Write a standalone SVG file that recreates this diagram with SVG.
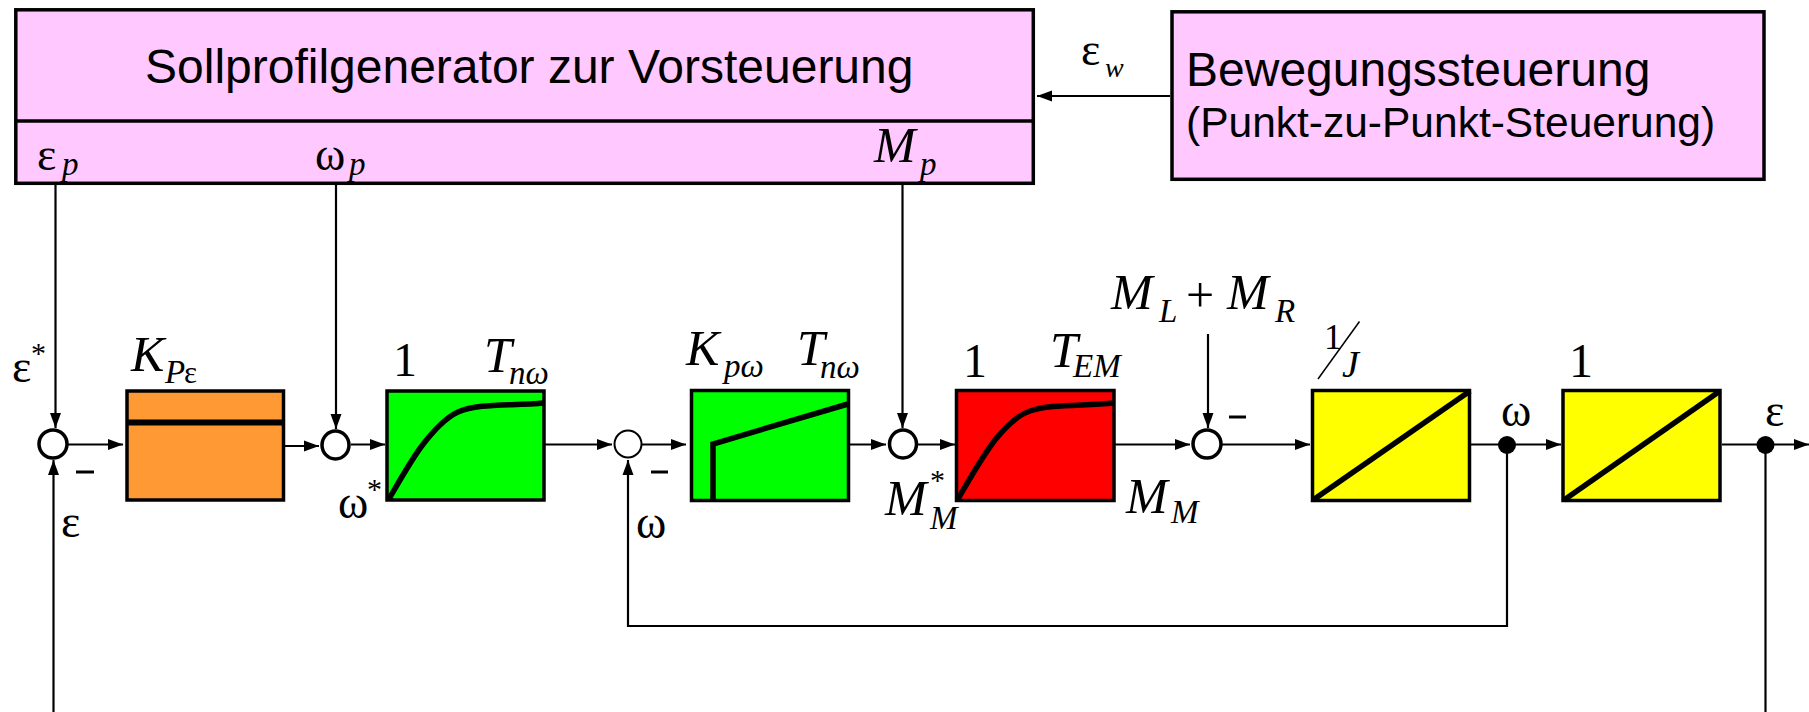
<svg xmlns="http://www.w3.org/2000/svg" width="1809" height="712" viewBox="0 0 1809 712">
<style>
.box{stroke:#000;stroke-width:3.5}
.pink{fill:#ffc8ff}.or{fill:#ff9933}.gr{fill:#00ff00}.rd{fill:#ff0000}.ye{fill:#ffff00}
.cur{fill:none;stroke:#000;stroke-width:5.5}
.sum{fill:#fff;stroke:#000;stroke-width:3.5}
.dot{fill:#000}
.c{fill:none;stroke:#000;stroke-width:2.2}
.ca{fill:none;stroke:#000;stroke-width:2.2;marker-end:url(#a)}
.minus{stroke:#000;stroke-width:3}
text{fill:#000;font-family:"Liberation Serif","Times New Roman",serif}
.s{font-family:"Liberation Sans",Arial,sans-serif}
.g{font-size:46px}
.i{font-style:italic;font-size:50px}
.sb{font-style:italic;font-size:33px}
.n{font-size:48px}
.st{font-size:30px}
</style>
<defs>
<marker id="a" markerUnits="userSpaceOnUse" markerWidth="15" markerHeight="12" refX="15" refY="6" orient="auto"><path d="M0 0.5L15 6L0 11.5z" fill="#000"/></marker>
</defs>
<g id="connectors">
<path class="ca" d="M55.500 183V428"/>
<path class="ca" d="M53.500 712V460"/>
<path class="ca" d="M336 183V429"/>
<path class="ca" d="M902.500 183V428"/>
<path class="ca" d="M1208 334V428"/>
<path class="ca" d="M1170 96H1037"/>
<path class="ca" d="M68 444.500H123"/>
<path class="ca" d="M285 446H319"/>
<path class="ca" d="M351 444.500H385"/>
<path class="ca" d="M545 444.500H612"/>
<path class="ca" d="M642 444.500H686"/>
<path class="ca" d="M850 444.500H886"/>
<path class="ca" d="M918 444.500H955"/>
<path class="ca" d="M1115 444.500H1190"/>
<path class="ca" d="M1222 444.500H1310"/>
<path class="ca" d="M1471 444.500H1561"/>
<path class="ca" d="M1722 444.500H1809"/>
<path class="ca" d="M1507 445V626H628V460"/>
<path class="c" d="M1765.500 445V712"/>
</g>
<g id="sollprofilgenerator">
<rect class="box pink" x="15.800" y="9.800" width="1017.500" height="173.500"/>
<path class="box" fill="none" d="M15.800 121H1033"/>
<text class="s" x="145" y="83" font-size="48">Sollprofilgenerator zur Vorsteuerung</text>
<text class="g" x="37" y="170">ε</text><text class="sb" x="62" y="175">p</text>
<text class="g" x="315" y="170">ω</text><text class="sb" x="349" y="175">p</text>
<text class="i" x="874" y="162">M</text><text class="sb" x="920" y="175">p</text>
</g>
<g id="bewegungssteuerung">
<rect class="box pink" x="1172" y="11.800" width="592" height="167.500"/>
<text class="s" x="1186" y="86" font-size="48">Bewegungssteuerung</text>
<text class="s" x="1186" y="137" font-size="42.500">(Punkt-zu-Punkt-Steuerung)</text>
</g>
<g id="label-eps-w"><text class="g" x="1081" y="65">ε</text><text class="sb" x="1105" y="77" style="font-size:28px">w</text></g>
<g id="sum1">
<ellipse class="sum" cx="53" cy="444" rx="14" ry="14"/>
<text class="g" x="12" y="382">ε</text><text class="st" x="31" y="363">*</text>
<text class="g" x="61" y="537">ε</text>
<path class="minus" d="M76 472H94"/>
</g>
<g id="k-p-eps">
<rect class="box or" x="127" y="391" width="156.500" height="109"/>
<path d="M127 422.500H284" stroke="#000" stroke-width="6"/>
<text class="i" x="131" y="371">K</text><text class="sb" x="165" y="383">P</text><text x="184" y="383" style="font-size:31px">ε</text>
</g>
<g id="sum2">
<ellipse class="sum" cx="335.500" cy="445" rx="13.500" ry="14"/>
<text class="g" x="338" y="518">ω</text><text class="st" x="367" y="499">*</text>
</g>
<g id="pt1-omega">
<rect class="box gr" x="387" y="391" width="157" height="109"/>
<path class="cur" d="M389 499C400 480 410 462 421 447C433 431 445 418 458 412C478 403 510 406 544 403"/>
<text class="n" x="393" y="376">1</text>
<text class="i" x="484" y="372">T</text><text class="sb" x="509" y="384">nω</text>
</g>
<g id="sum3">
<ellipse cx="628" cy="444" rx="13.500" ry="13.500" fill="#fff" stroke="#000" stroke-width="2"/>
<path class="minus" d="M651 472H668"/>
<text class="g" x="636" y="538">ω</text>
</g>
<g id="pi-omega">
<rect class="box gr" x="691.500" y="390.500" width="157" height="110"/>
<path class="cur" d="M713 500V444L848 404"/>
<text class="i" x="686" y="365">K</text><text class="sb" x="724" y="377">pω</text>
<text class="i" x="797" y="365">T</text><text class="sb" x="820" y="378">nω</text>
</g>
<g id="sum4">
<ellipse class="sum" cx="903" cy="444" rx="13.500" ry="14"/>
<text class="i" x="885" y="515">M</text><text class="sb" x="930" y="529">M</text><text class="st" x="930" y="490">*</text>
</g>
<g id="pt1-em">
<rect class="box rd" x="956.500" y="390.500" width="157.500" height="110"/>
<path class="cur" d="M958 499C970 478 982 457 995 440C1007 425 1018 415 1030 411C1050 404 1082 406 1114 403"/>
<text class="n" x="963" y="377">1</text>
<text class="i" x="1050" y="367">T</text><text class="sb" x="1073" y="377">EM</text>
<text class="i" x="1126" y="513">M</text><text class="sb" x="1171" y="523">M</text>
</g>
<g id="sum5">
<ellipse class="sum" cx="1207" cy="444" rx="14" ry="14"/>
<path class="minus" d="M1229 417H1246"/>
<text class="i" x="1111" y="309">M</text><text class="sb" x="1159" y="322">L</text>
<text x="1186" y="312" style="font-size:50px">+</text>
<text class="i" x="1227" y="309">M</text><text class="sb" x="1275" y="322">R</text>
</g>
<g id="integrator-j">
<rect class="box ye" x="1312.500" y="390.500" width="157" height="110"/>
<path d="M1313 500L1470 391" stroke="#000" stroke-width="5.500"/>
<text x="1324" y="349" style="font-size:36px">1</text>
<path d="M1318 379L1359.500 321.500" stroke="#000" stroke-width="1.500"/>
<text class="sb" x="1342" y="377" style="font-size:38px">J</text>
</g>
<g id="junction-omega">
<circle class="dot" cx="1507" cy="445" r="9"/>
<text class="g" x="1501" y="426">ω</text>
</g>
<g id="integrator-1">
<rect class="box ye" x="1563" y="390.500" width="157" height="110"/>
<path d="M1564 500L1720 391" stroke="#000" stroke-width="5.500"/>
<text class="n" x="1569" y="377">1</text>
</g>
<g id="junction-eps">
<circle class="dot" cx="1765.500" cy="445" r="9"/>
<text class="g" x="1765" y="426">ε</text>
</g>
</svg>
